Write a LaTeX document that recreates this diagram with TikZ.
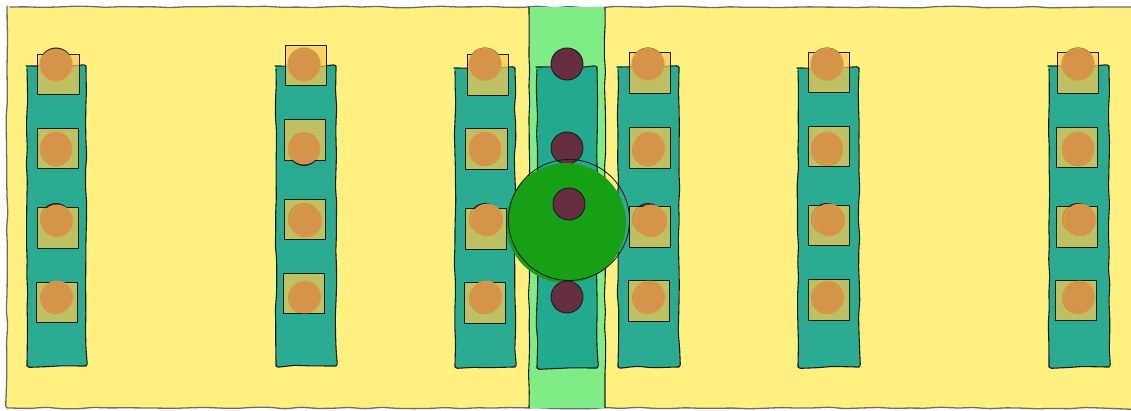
\documentclass[tikz,border=0pt]{standalone}
\usetikzlibrary{decorations.pathmorphing}
\definecolor{bgyellow}{HTML}{FFF080}
\definecolor{stripe}{HTML}{80EC85}
\definecolor{tealc}{HTML}{2BAC92}
\definecolor{tealm}{HTML}{22AA8F}
\definecolor{bigg}{HTML}{16A016}
\definecolor{maroon}{HTML}{652E40}
\definecolor{sqc}{HTML}{FFC850}
\definecolor{orangec}{HTML}{D6944A}
\definecolor{inkc}{HTML}{1E1E1E}
\begin{document}
\begin{tikzpicture}[x=1pt,y=-1pt,
  ink/.style={draw=inkc, line width=1.1pt, line join=round},
  rough/.style={decorate, decoration={random steps, segment length=16pt, amplitude=0.8pt}, rounded corners=2.5pt},
  tablebox/.style={ink, rough, fill=tealc},
  seatdot/.style={ink, line width=0.9pt, fill=maroon},
  plate/.style={ink, line width=1pt, fill=sqc, fill opacity=0.7},
  dish/.style={fill=orangec, draw=orangec!85!yellow, draw opacity=0.7, line width=0.8pt}
]
\pgfmathsetseed{7}
\useasboundingbox (0,0) rectangle (1131,410);
% background
\draw[draw=inkc!65, line width=1.3pt, fill=bgyellow, rough] (7,7) -- (1136,7) -- (1136,408) -- (7,408) -- cycle;
% green stripe
\fill[stripe] (529,7) rectangle (605,408);
\draw[ink, rough] (529,7) -- (529,408);
\draw[ink, rough] (605,7) -- (605,408);
% side tables
\foreach \l/\r/\t/\b in {27/86/66/366, 276/336/66/366, 455/515/68/367, 618/679/67/367, 798/859/68/367, 1049/1109/66/367}
  \draw[tablebox] (\l,\t) rectangle (\r,\b);
% middle table
\draw[tablebox, fill=tealm] (537,67) rectangle (597,368);
% seats in side columns
\foreach \x in {56, 304, 485, 648, 827, 1078}{
  \draw[seatdot] (\x,64) circle (16);
  \draw[seatdot] (\x,150) circle (15.5);
  \draw[seatdot] (\x,219) circle (15.5);
  \draw[seatdot] (\x,298) circle (15.5);
}
% middle column seats
\draw[seatdot] (567,64) circle (16);
\draw[seatdot] (567,148) circle (16);
% big green circle
\fill[bigg] (566,223) circle (60);
\draw[ink, line width=0.9pt] (569,220) circle (60.5);
\draw[seatdot] (569,204) circle (16);
\draw[seatdot] (567,297) circle (16);
% plates
\foreach \l/\t/\r/\b in {
  37/54/79/94, 37/128/78/168, 37/207/78/248, 36/282/77/322,
  285/45/326/85, 284/119/325/160, 284/199/325/239, 283/273/324/313,
  467/54/508/95, 465/128/507/169, 465/208/506/249, 464/282/505/323,
  629/52/670/93, 629/127/670/168, 629/206/670/247, 628/280/669/321,
  808/52/849/92, 808/126/849/166, 808/205/849/245, 808/279/849/320,
  1057/52/1098/93, 1056/127/1097/167, 1056/206/1097/247, 1055/280/1096/320}
  \draw[plate] (\l,\t) rectangle (\r,\b);
% dishes
\foreach \x/\y in {
  56/65, 56/148, 57/221, 57/297,
  304/65, 304/148, 306/221, 305/297,
  485/64, 485/148, 487/220, 486/297,
  648/64, 649/148, 651/221, 649/297,
  827/64, 827/148, 829/220, 828/297,
  1078/64, 1078/148, 1080/220, 1079/297}
  \draw[dish] (\x,\y) circle (16);
\end{tikzpicture}
\end{document}
